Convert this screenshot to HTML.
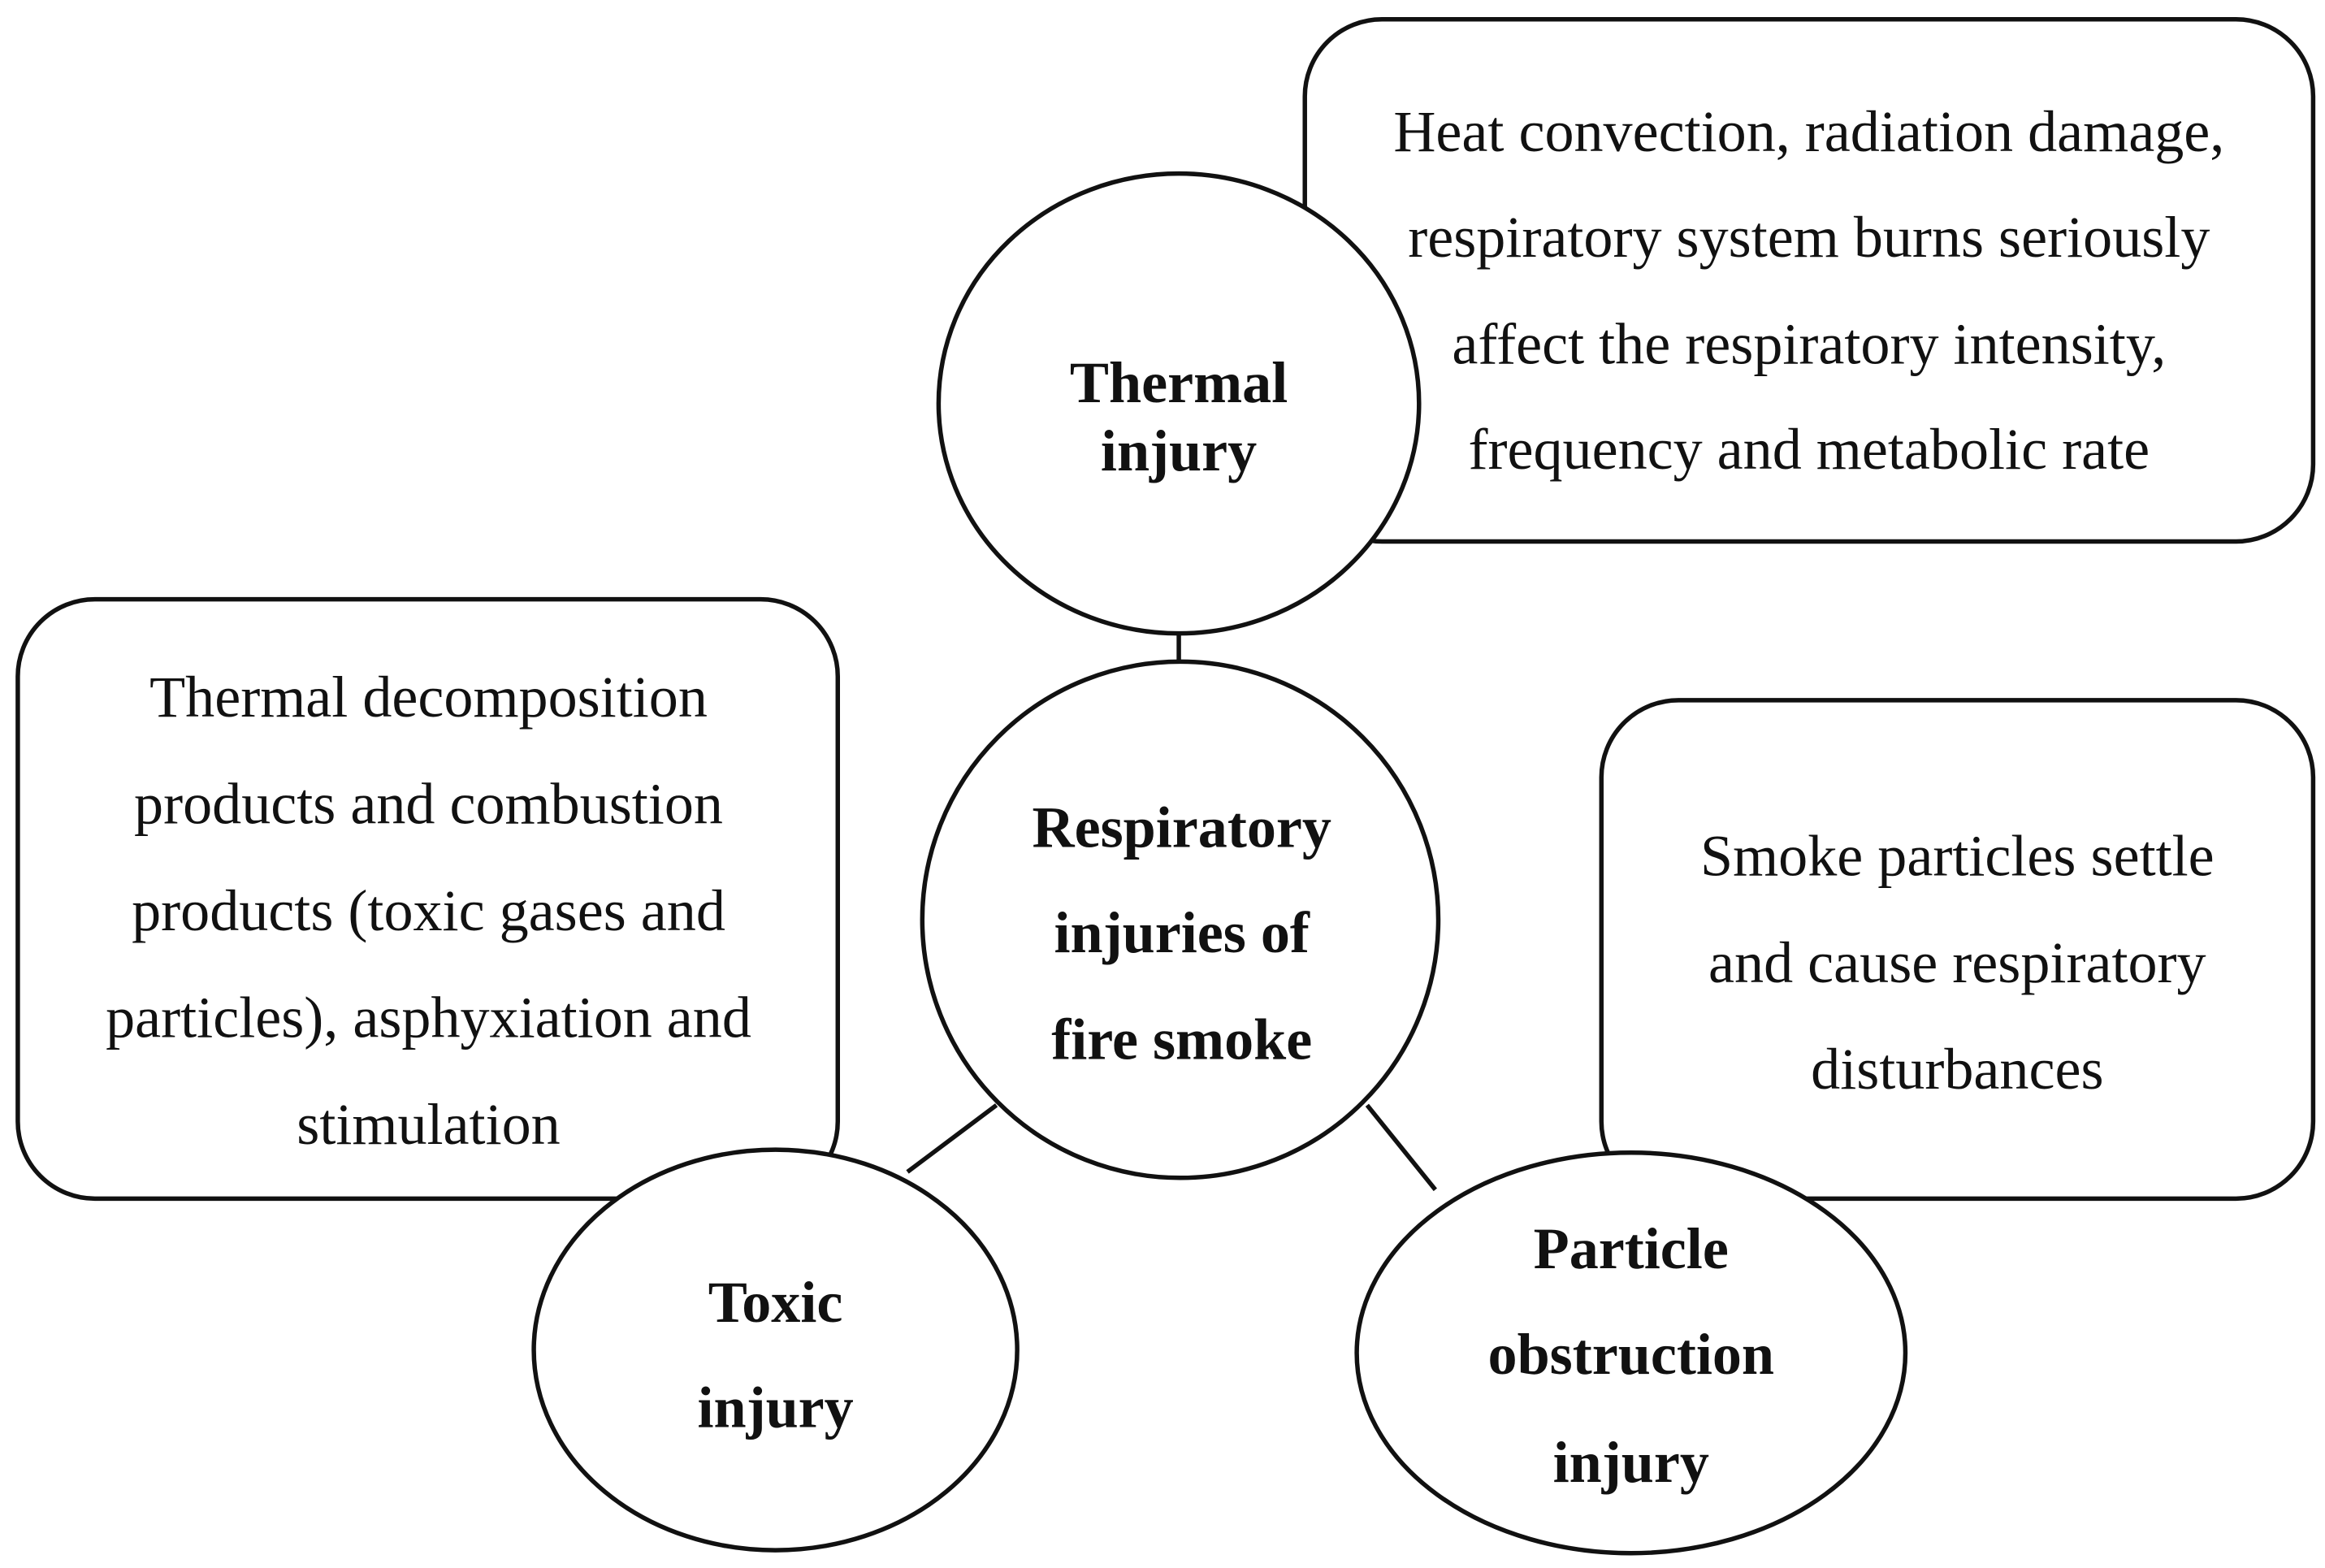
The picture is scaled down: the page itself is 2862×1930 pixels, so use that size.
<!DOCTYPE html>
<html><head><meta charset="utf-8"><style>
html,body{margin:0;padding:0;background:#fff;}
svg{display:block;}
text{font-family:"Liberation Serif",serif;fill:#111;text-anchor:middle;}
.n{font-size:39.5px;}
.b{font-size:39.5px;font-weight:bold;}
</style></head><body>
<svg width="2862" height="1930" viewBox="0 0 1568 1057" preserveAspectRatio="none" xmlns="http://www.w3.org/2000/svg">
<g fill="#fff" stroke="#111" stroke-width="3">
<rect x="880" y="13" width="680" height="352" rx="52"/>
<rect x="12" y="404" width="553" height="404" rx="52"/>
<rect x="1080" y="472" width="480" height="336" rx="52"/>
<line x1="795" y1="420" x2="795" y2="447"/>
<line x1="672" y1="745" x2="612" y2="790"/>
<line x1="922" y1="745" x2="968" y2="802"/>
<ellipse cx="795" cy="272" rx="162" ry="155"/>
<ellipse cx="796" cy="620" rx="174" ry="174"/>
<ellipse cx="523" cy="910" rx="163" ry="135"/>
<ellipse cx="1100" cy="912" rx="185" ry="135"/>
</g>
<text class="n" x="1220" y="102">Heat convection, radiation damage,</text>
<text class="n" x="1220" y="173">respiratory system burns seriously</text>
<text class="n" x="1220" y="245">affect the respiratory intensity,</text>
<text class="n" x="1220" y="316">frequency and metabolic rate</text>
<text class="n" x="289" y="483">Thermal decomposition</text>
<text class="n" x="289" y="555">products and combustion</text>
<text class="n" x="289" y="627">products (toxic gases and</text>
<text class="n" x="289" y="699">particles), asphyxiation and</text>
<text class="n" x="289" y="771">stimulation</text>
<text class="n" x="1320" y="590">Smoke particles settle</text>
<text class="n" x="1320" y="662">and cause respiratory</text>
<text class="n" x="1320" y="734">disturbances</text>
<text class="b" x="795" y="271">Thermal</text>
<text class="b" x="795" y="317">injury</text>
<text class="b" x="797" y="571">Respiratory</text>
<text class="b" x="797" y="642">injuries of</text>
<text class="b" x="797" y="714">fire smoke</text>
<text class="b" x="523" y="891">Toxic</text>
<text class="b" x="523" y="962">injury</text>
<text class="b" x="1100" y="855">Particle</text>
<text class="b" x="1100" y="926">obstruction</text>
<text class="b" x="1100" y="999">injury</text>
</svg>
</body></html>
